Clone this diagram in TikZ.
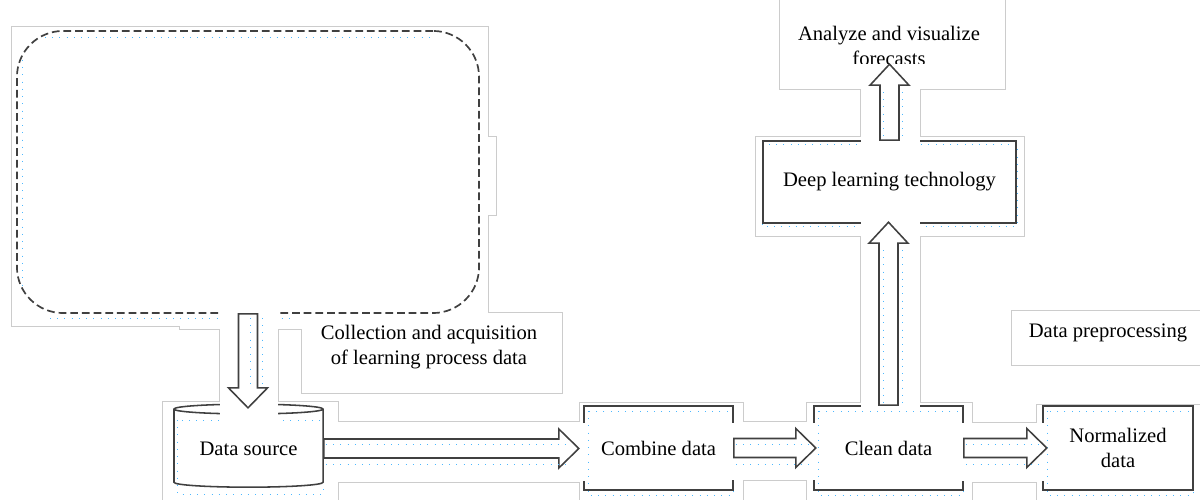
\documentclass[tikz,border=0pt]{standalone}
\usepackage{fontspec}
\setmainfont{Liberation Serif}
\usetikzlibrary{shapes.geometric,positioning}

\begin{document}
\begin{tikzpicture}[
  x=0.025cm, y=-0.025cm,
  font=\fontsize{14.65}{17.8}\selectfont,
  frame/.style={draw=gray!40, line width=1.2pt},
  guide/.style={draw=blue!40!cyan!70, line width=0.55pt, dash pattern=on 0.55pt off 4.6pt},
  box/.style={draw=black!75, line width=1.1pt, align=center, minimum width=3.725cm, minimum height=2.1cm, inner sep=2pt},
  dashbox/.style={draw=black!75, line width=1.2pt, dash pattern=on 5.5pt off 2.8pt, rounded corners=1.15cm, minimum width=11.55cm, minimum height=7.05cm},
  db/.style={cylinder, shape border rotate=90, draw=black!75, line width=1.1pt, aspect=0.1, minimum width=3.725cm, minimum height=2.075cm, inner sep=0pt},
  blk/.style={draw=black!75, fill=white, line width=1.1pt, line join=miter},
  lbl/.style={align=center, inner sep=1pt},
]
\clip (0,0) rectangle (1200,499);
\useasboundingbox (0,0) rectangle (1200,499);
% ---------- light text frames ----------
\foreach \xa/\ya/\xb/\yb in {12/27/488/326, 480/137/496/215, 180/310/302/329, 220/300/278/404, 302/313/562/393,
  163/402/338/510, 338/422/580/482, 580/403/743/510, 743/422/807/480, 807/403/972/510, 972/423/1037/482,
  1037/405/1210/510, 861/233/920/404, 756/137/1024/236, 861/86/920/140, 780/-10/1005/89, 1012/311/1210/365}
  \draw[frame] (\xa,\ya) rectangle (\xb,\yb);
\foreach \xa/\ya/\xb/\yb in {12/27/488/326, 480/137/496/215, 180/310/302/329, 220/300/278/404, 302/313/562/393,
  163/402/338/510, 338/422/580/482, 580/403/743/510, 743/422/807/480, 807/403/972/510, 972/423/1037/482,
  1037/405/1210/510, 861/233/920/404, 756/137/1024/236, 861/86/920/140, 780/-10/1005/89, 1012/311/1210/365}
  \fill[white] (\xa,\ya) rectangle (\xb,\yb);
% dotted guides of the text frames
\foreach \xa/\ya/\xb/\yb in {177/420/323/494, 588/411/733/495, 818/411/963/495, 1047/411/1193/495, 762/144/1017/226}
  \draw[guide] (\xa,\ya) rectangle (\xb,\yb);
\draw[guide] (45,37) -- (430,37);
\draw[guide] (22,60) -- (22,290);
\draw[guide] (50,318) -- (290,318);
% ---------- blocks ----------
\node[dashbox] (collect) at (248,172) {};
\node[db] (src) at (248.5,448.5) {Data source};
\node[box] (comb) at (658.5,448) {Combine data};
\node[box] (clean) at (888.5,448) {Clean data};
\node[box, minimum width=3.75cm] (norm) at (1118,448) {Normalized\\data};
\node[box, minimum width=6.325cm, minimum height=2.05cm] (dl) at (889.5,182) {Deep learning technology};
\fill[white, opacity=0.55] (302,313.6) rectangle (562,393);
% frames of the arrows hide the box borders
\foreach \xa/\ya/\xb/\yb in {338/423/588/481, 729/423/818/480, 959/423/1047/481, 220/300/278/421, 861/219/920/410, 861/86/920/145}
  \fill[white] (\xa,\ya) rectangle (\xb,\yb);
% ---------- labels ----------
\node[lbl] (acq) at (429,347.5) {Collection and acquisition\\of learning process data};
\node[lbl] (prep) at (1108,333) {Data preprocessing};
\begin{scope}
  \clip (780,0) rectangle (1005,64);
  \node[lbl] (viz) at (889,45.5) {Analyze and visualize\\forecasts};
\end{scope}
% ---------- block arrows ----------
\draw[blk] (collect.south) ++(-9.5,0) -- ++(0,74) -- ++(-10,0) -- ++(19.5,20) -- ++(19.5,-20) -- ++(-10,0) -- ++(0,-74) -- cycle;
\draw[blk] (src.east) ++(0,-9.5) -- ++(235,0) -- ++(0,-10) -- ++(20,19.5) -- ++(-20,19.5) -- ++(0,-10) -- ++(-235,0) -- cycle;
\draw[blk] (comb.east) ++(0,-9.5) -- ++(62,0) -- ++(0,-10) -- ++(20,19.5) -- ++(-20,19.5) -- ++(0,-10) -- ++(-62,0) -- cycle;
\draw[blk] (clean.east) ++(0,-9.5) -- ++(63,0) -- ++(0,-10) -- ++(20,19.5) -- ++(-20,19.5) -- ++(0,-10) -- ++(-63,0) -- cycle;
\draw[blk] (clean.north) ++(-9.5,0) -- ++(0,-162) -- ++(-10,0) -- ++(19.5,-21) -- ++(19.5,21) -- ++(-10,0) -- ++(0,162) -- cycle;
\draw[blk] (dl.north) ++(-9.5,0) -- ++(0,-55) -- ++(-10,0) -- ++(19.5,-21) -- ++(19.5,21) -- ++(-10,0) -- ++(0,55) -- cycle;
% dotted guides in the arrows
\foreach \xa/\xb in {326/572, 736/810, 966/1040} {
  \draw[guide] (\xa,444) -- (\xb,444);
  \draw[guide] (\xa,464) -- (\xb,464);
}
\foreach \ya/\yb in {250/404, 92/140} {
  \draw[guide] (883,\ya) -- (883,\yb);
  \draw[guide] (902,\ya) -- (902,\yb);
}
\draw[guide] (250,318) -- (250,386);
\draw[guide] (262,318) -- (262,386);
\end{tikzpicture}
\end{document}
